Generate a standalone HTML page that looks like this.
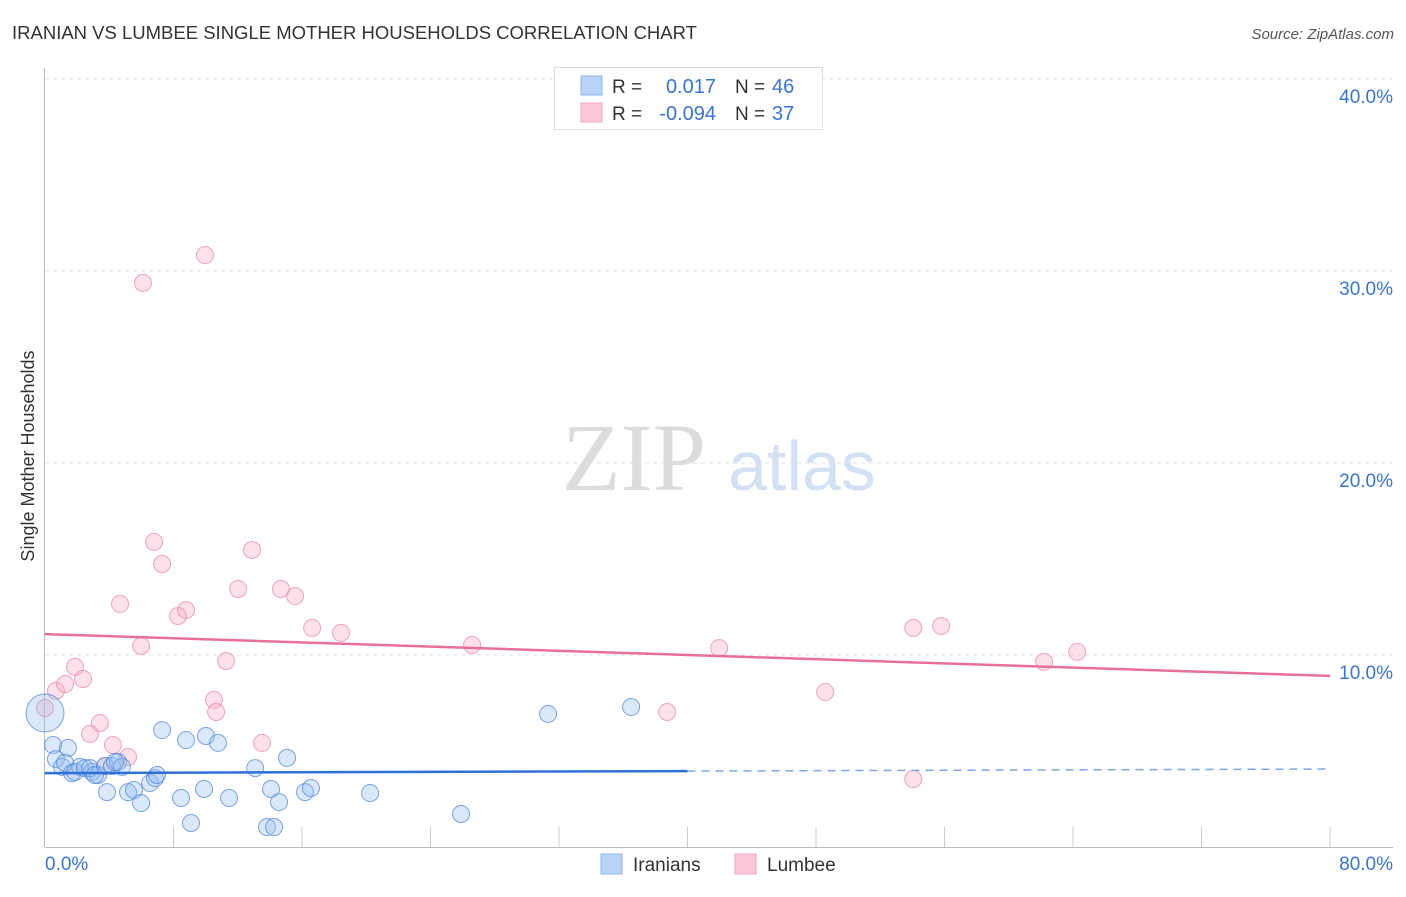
<!DOCTYPE html>
<html><head><meta charset="utf-8"><style>
body{margin:0;background:#fff;font-family:"Liberation Sans",sans-serif;}
svg text{font-family:"Liberation Sans",sans-serif;}
</style></head><body>
<svg id="chart" width="1406" height="892">
<text x="12" y="39" font-size="18.5" fill="#333">IRANIAN VS LUMBEE SINGLE MOTHER HOUSEHOLDS CORRELATION CHART</text>
<text x="1394" y="39" font-size="15" fill="#555" font-style="italic" text-anchor="end">Source: ZipAtlas.com</text>
<text x="634" y="490" font-size="96" fill="#dcdcdc" style="font-family:'Liberation Serif',serif" text-anchor="middle">ZIP</text>
<text x="802" y="490" font-size="70" fill="#d3e1f5" text-anchor="middle">atlas</text>
<text transform="translate(34,456) rotate(-90)" font-size="18" fill="#333" text-anchor="middle">Single Mother Households</text>
<g id="grid"></g><g id="marks"></g>
<g>
<rect x="554.5" y="67.5" width="268" height="62" fill="#fff" stroke="#ddd"/>
<rect x="581" y="76" width="21" height="19" fill="#b9d3f7" stroke="#8db4ea"/>
<rect x="581" y="103" width="21" height="19" fill="#fbc9d8" stroke="#eea7bd"/>
<text x="612" y="93" font-size="19" fill="#333">R =</text><text x="716" y="93" font-size="20" fill="#3b74d0" text-anchor="end">0.017</text>
<text x="735" y="93" font-size="19" fill="#333">N =</text><text x="772" y="93" font-size="20" fill="#3b74d0">46</text>
<text x="612" y="120" font-size="19" fill="#333">R =</text><text x="716" y="120" font-size="20" fill="#3b74d0" text-anchor="end">-0.094</text>
<text x="735" y="120" font-size="19" fill="#333">N =</text><text x="772" y="120" font-size="20" fill="#3b74d0">37</text>
</g>
<g>
<rect x="601" y="854" width="21" height="20" fill="#b9d3f7" stroke="#8db4ea"/>
<text x="633" y="871" font-size="19" fill="#333">Iranians</text>
<rect x="735" y="854" width="21" height="20" fill="#fbc9d8" stroke="#eea7bd"/>
<text x="767" y="871" font-size="19" fill="#333">Lumbee</text>
</g>
</svg>
<script>
const blueX=[0,0.5,0.68,1.43,1.06,1.25,1.68,2.18,1.87,2.49,2.93,3.3,2.8,3.11,3.74,4.17,4.55,4.79,3.86,5.17,5.54,5.98,6.54,6.85,6.97,7.29,8.47,8.78,9.09,9.9,10.02,10.77,11.46,13.08,14.07,14.57,13.82,14.26,15.07,16.19,16.56,20.24,25.9,31.32,36.49,4.36];
const blueY=[6.98,5.31,4.58,5.16,4.17,4.38,3.85,4.17,3.91,4.11,3.91,3.75,4.11,3.75,4.22,4.22,4.43,4.17,2.86,2.86,2.97,2.29,3.33,3.59,3.75,6.09,2.55,5.57,1.25,3.02,5.78,5.42,2.55,4.11,3.02,2.34,1.04,1.04,4.64,2.86,3.07,2.81,1.72,6.93,7.29,4.43];
const pinkX=[0,0.68,1.25,1.87,2.37,2.8,3.42,4.23,5.17,4.67,5.98,6.1,6.79,7.29,8.28,8.78,9.96,10.52,10.65,11.27,12.02,12.89,13.51,14.69,15.57,16.63,18.43,26.59,38.73,41.97,48.57,54.05,55.79,54.05,62.2,64.26,3.74];
const pinkY=[7.24,8.13,8.49,9.38,8.75,5.89,6.46,5.31,4.69,12.66,10.47,29.38,15.89,14.74,12.03,12.34,30.83,7.66,7.03,9.69,13.44,15.47,5.42,13.44,13.07,11.41,11.15,10.52,7.03,10.36,8.07,11.41,11.51,3.54,9.64,10.16,4.22];
const yTicks=[10,20,30,40];
const yTickLabels=["10.0%","20.0%","30.0%","40.0%"];
const xTicks=[0,8,16,24,32,40,48,56,64,72,80];
const blueTrend=[3.85,4.06];
const pinkTrend=[11.09,8.91];
const bigBlue=[0];

const NS="http://www.w3.org/2000/svg";
const sx=v=>45+v*16.0625, sy=v=>847-v*19.2;
function mk(tag,attrs,parent){const e=document.createElementNS(NS,tag);for(const k in attrs)e.setAttribute(k,attrs[k]);parent.appendChild(e);return e;}
const grid=document.getElementById('grid'), marks=document.getElementById('marks');
yTicks.forEach((t,i)=>{
  const l=mk('line',{x1:45,x2:1393,y1:sy(t),y2:sy(t),stroke:'#e2e2e2','stroke-dasharray':'4,4'},grid);
  
  
  const tx=mk('text',{x:1393,y:sy(t)+24,'font-size':19,fill:'#3b74d0','text-anchor':'end'},grid);
  tx.textContent=yTickLabels[i];
  
  
});
const ax=mk('line',{x1:44.5,x2:44.5,y1:68,y2:847,stroke:'#bbb'},grid);


const bx=mk('line',{x1:45,x2:1393,y1:847.5,y2:847.5,stroke:'#bbb'},grid);


xTicks.slice(1).forEach(t=>{
  const l=mk('line',{x1:sx(t),x2:sx(t),y1:827,y2:847,stroke:'#ccc'},grid);
  
  
});
[["0.0%",45,'start'],["80.0%",1393,'end']].forEach(a=>{
  const t=mk('text',{x:a[1],y:870,'font-size':19,fill:'#3b74d0','text-anchor':a[2]},grid);
  t.textContent=a[0];
  
  
});
pinkX.forEach((x,i)=>{
  const c=mk('circle',{cx:sx(x),cy:sy(pinkY[i]),r:8.5,fill:'rgba(247,170,195,0.35)',stroke:'rgba(232,130,162,0.7)','stroke-width':1},marks);
  
  
});
blueX.forEach((x,i)=>{
  const c=mk('circle',{cx:sx(x),cy:sy(blueY[i]),r:bigBlue.includes(i)?19:8.5,fill:'rgba(150,190,240,0.35)',stroke:'rgba(70,130,215,0.7)','stroke-width':1},marks);
  
  
});
const pl=mk('line',{x1:sx(0),x2:sx(80),y1:sy(pinkTrend[0]),y2:sy(pinkTrend[1]),stroke:'#e76f9a','stroke-width':2.5},marks);


const bm=(blueTrend[0]+blueTrend[1])/2;
const bl=mk('line',{x1:sx(0),x2:sx(40),y1:sy(blueTrend[0]),y2:sy(bm),stroke:'#2f6fd6','stroke-width':2.5},marks);


const bd=mk('line',{x1:sx(40),x2:sx(80),y1:sy(bm),y2:sy(blueTrend[1]),stroke:'#7fa6e3','stroke-width':1.5,'stroke-dasharray':'8,6'},marks);


</script>
</body></html>
